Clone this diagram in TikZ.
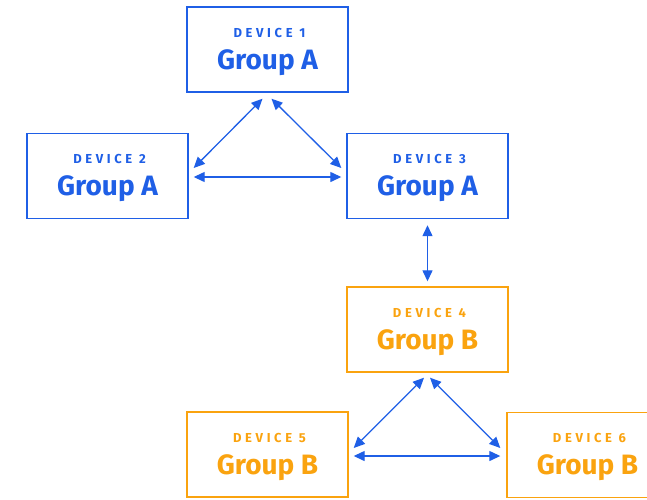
\documentclass[tikz,border=0pt]{standalone}
\usepackage{fontspec}
\setmainfont{Fira Sans}
\newfontfamily\spacedfont[LetterSpace=28]{Fira Sans}
\usetikzlibrary{arrows.meta,calc}
\definecolor{blueA}{HTML}{1F5FE6}
\definecolor{orangeB}{HTML}{FAA30F}
\begin{document}
\begin{tikzpicture}[x=1pt,y=-1pt,
  box/.style={draw, line width=1.4pt, minimum width=161pt, minimum height=85pt, inner sep=0pt},
  devlbl/.style={font=\spacedfont\bfseries\fontsize{13}{15}\selectfont, inner sep=0pt, anchor=base},
  grplbl/.style={font=\bfseries\fontsize{28}{32}\selectfont, inner sep=0pt, anchor=base},
  conn/.style={draw=blueA, line width=1.3pt, {Triangle[length=11pt,width=10pt]}-{Triangle[length=11pt,width=10pt]}}]
\useasboundingbox (0,0) rectangle (647,499);
\clip (0,0) rectangle (647,499);
% boxes
\node[box, draw=blueA] (d1) at (267.5,49.5) {};
\node[box, draw=blueA] (d2) at (107.5,176) {};
\node[box, draw=blueA] (d3) at (427.5,176) {};
\node[box, draw=orangeB] (d4) at (427.5,329.5) {};
\node[box, draw=orangeB] (d5) at (267.5,454.5) {};
\node[box, draw=orangeB] (d6) at (587.5,455) {};
% labels
\foreach \n/\t/\g/\c in {d1/1/A/blueA, d2/2/A/blueA, d3/3/A/blueA, d4/4/B/orangeB, d5/5/B/orangeB, d6/6/B/orangeB}{
  \node[devlbl, text=\c] (\n l) at ([shift={(2,31)}]\n.north) {DEVICE \t};
  \node[grplbl, text=\c] (\n g) at ([shift={(0,63)}]\n.north) {Group \g};
}
% connectors
\draw[conn] ([shift={(-5,6)}]d1.south) -- ([shift={(5,-8)}]d2.east);
\draw[conn] ([shift={(4,6)}]d1.south) -- ([shift={(-5,-8)}]d3.west);
\draw[conn] ([shift={(5,1)}]d2.east) -- ([shift={(-5,1)}]d3.west);
\draw[conn] ([shift={(0,6)}]d3.south) -- ([shift={(0,-5)}]d4.north);
\draw[conn] ([shift={(-3.5,5)}]d4.south) -- ([shift={(5,-6.5)}]d5.east);
\draw[conn] ([shift={(2.5,5)}]d4.south) -- ([shift={(-6,-7)}]d6.west);
\draw[conn] ([shift={(5,1.5)}]d5.east) -- ([shift={(-6,1)}]d6.west);
\end{tikzpicture}
\end{document}
